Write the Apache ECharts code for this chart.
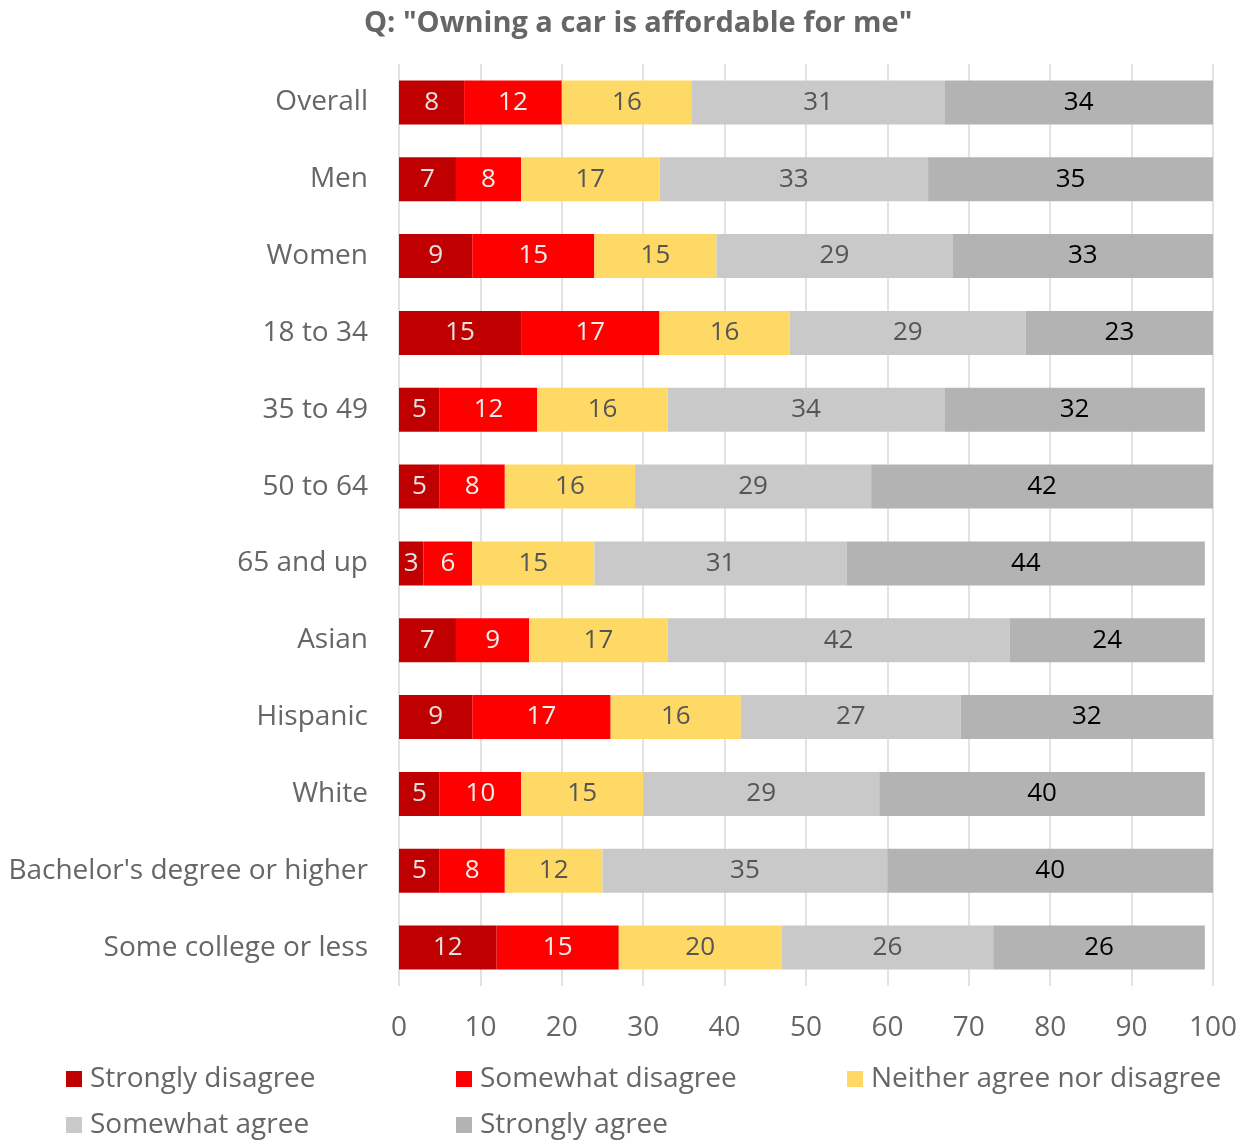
<!DOCTYPE html>
<html>
<head>
<meta charset="utf-8">
<title>Owning a car is affordable for me</title>
<script src="https://cdn.jsdelivr.net/npm/echarts@6/dist/echarts.min.js"></script>
<style>
  html, body { margin: 0; padding: 0; background: #ffffff; }
  #chart { width: 1250px; height: 1140px; }
</style>
</head>
<body>
<div id="chart"></div>
<script>
// Survey groups, top to bottom
const categories = [
  'Overall', 'Men', 'Women', '18 to 34', '35 to 49', '50 to 64', '65 and up',
  'Asian', 'Hispanic', 'White', "Bachelor's degree or higher", 'Some college or less'
];

// Share of respondents (%) per answer
const stronglyDisagree = [8, 7, 9, 15, 5, 5, 3, 7, 9, 5, 5, 12];
const somewhatDisagree = [12, 8, 15, 17, 12, 8, 6, 9, 17, 10, 8, 15];
const neither          = [16, 17, 15, 16, 16, 16, 15, 17, 16, 15, 12, 20];
const somewhatAgree    = [31, 33, 29, 29, 34, 29, 31, 42, 27, 29, 35, 26];
const stronglyAgree    = [34, 35, 33, 23, 32, 42, 44, 24, 32, 40, 40, 26];

const xTicks = [0, 10, 20, 30, 40, 50, 60, 70, 80, 90, 100];

const FONT = '"Open Sans", "Noto Sans", sans-serif';
const TEXT = '#666666';

const seriesDefs = [
  { name: 'Strongly disagree', data: stronglyDisagree, color: '#C00000', label: '#E3E3E3' },
  { name: 'Somewhat disagree', data: somewhatDisagree, color: '#FF0000', label: '#EDEDED' },
  { name: 'Neither agree nor disagree', data: neither, color: '#FFD966', label: '#555555' },
  { name: 'Somewhat agree', data: somewhatAgree, color: '#C9C9C9', label: '#555555' },
  { name: 'Strongly agree', data: stronglyAgree, color: '#B3B3B3', label: '#000000' }
];

// Legend laid out as a 3-column grid
const legendSlots = [
  { left: 66, top: 1065 },
  { left: 456, top: 1065 },
  { left: 847, top: 1065 },
  { left: 66, top: 1111 },
  { left: 456, top: 1111 }
];

const chart = echarts.init(document.getElementById('chart'), null, { renderer: 'canvas' });

chart.setOption({
  animation: false,
  backgroundColor: '#ffffff',
  title: {
    text: 'Q: "Owning a car is affordable for me"',
    left: 364,
    top: 9,
    padding: 0,
    textStyle: { fontFamily: FONT, fontSize: 29, fontWeight: 'bold', color: TEXT }
  },
  legend: seriesDefs.map((s, i) => ({
    data: [s.name],
    left: legendSlots[i].left,
    top: legendSlots[i].top,
    padding: 0,
    itemWidth: 16,
    itemHeight: 16,
    icon: 'rect',
    selectedMode: false,
    textStyle: { fontFamily: FONT, fontSize: 28, color: TEXT, padding: [0, 0, 0, 3] }
  })),
  grid: { left: 399, right: 37, top: 64, bottom: 154, containLabel: false },
  xAxis: {
    type: 'value',
    min: xTicks[0],
    max: xTicks[xTicks.length - 1],
    interval: xTicks[1] - xTicks[0],
    axisLine: { show: false },
    axisTick: { show: false },
    splitLine: { show: true, lineStyle: { color: '#D9D9D9', width: 1.5 } },
    axisLabel: { fontFamily: FONT, fontSize: 28, color: TEXT, margin: 28 }
  },
  yAxis: {
    type: 'category',
    data: categories,
    inverse: true,
    axisLine: { show: false },
    axisTick: { show: false },
    splitLine: { show: false },
    axisLabel: { fontFamily: FONT, fontSize: 28, color: TEXT, margin: 31 }
  },
  series: seriesDefs.map(s => ({
    name: s.name,
    type: 'bar',
    stack: 'total',
    data: s.data,
    barWidth: 44,
    clip: true,
    itemStyle: { color: s.color },
    label: {
      show: true,
      position: 'inside',
      fontFamily: FONT,
      fontSize: 26,
      color: s.label
    }
  }))
});
</script>
</body>
</html>
